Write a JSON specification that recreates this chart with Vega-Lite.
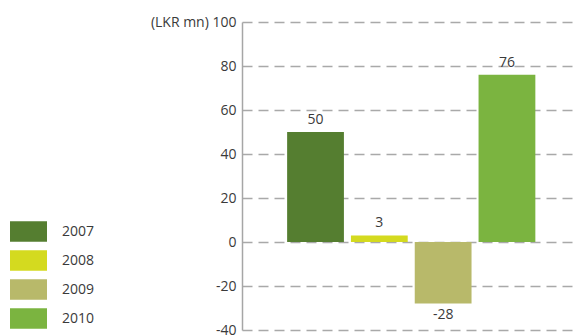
{
  "$schema": "https://vega.github.io/schema/vega-lite/v6.json",
  "autosize": "none",
  "width": 335,
  "height": 308,
  "padding": {"left": 242, "top": 22, "right": 0, "bottom": 6},
  "background": "white",
  "config": {
    "view": {"stroke": null},
    "font": "Open Sans",
    "axis": {"labelFont": "Open Sans", "labelColor": "#3a3a3a", "labelFontSize": 14},
    "legend": {"labelFont": "Open Sans"}
  },
  "data": {
    "values": [
      {"year": "2007", "value": 50},
      {"year": "2008", "value": 3},
      {"year": "2009", "value": -28},
      {"year": "2010", "value": 76}
    ]
  },
  "encoding": {
    "x": {
      "field": "year", "type": "nominal", "axis": null,
      "scale": {"paddingInner": 0.11, "paddingOuter": 0.68, "align": 0.52}
    },
    "y": {
      "field": "value", "type": "quantitative",
      "scale": {"domain": [-40, 100], "nice": false, "zero": false},
      "axis": {
        "title": null,
        "values": [-40, -20, 0, 20, 40, 60, 80, 100],
        "labelExpr": "datum.value == 100 ? '(LKR mn)  100' : replace(datum.label, '\u2212', '-')",
        "labelPadding": 6,
        "ticks": false,
        "domainColor": "#a6a6a6",
        "domainWidth": 1.5,
        "grid": true,
        "gridColor": "#a9a9a9",
        "gridWidth": 1.5,
        "gridDash": [10, 6],
        "labelBound": false,
        "labelFlush": false
      }
    }
  },
  "layer": [
    {
      "mark": {"type": "bar"},
      "encoding": {
        "color": {
          "field": "year", "type": "nominal",
          "scale": {"domain": ["2007", "2008", "2009", "2010"], "range": ["#557e30", "#d4da1f", "#b8b96a", "#7bb440"]},
          "legend": {
            "title": null,
            "orient": "none",
            "legendX": -232,
            "legendY": 191,
            "symbolType": "M-1,-0.56H1V0.56H-1Z",
            "symbolSize": 1369,
            "symbolStrokeWidth": 0,
            "rowPadding": -6.5,
            "labelFontSize": 14,
            "labelColor": "#3a3a3a",
            "labelOffset": 15
          }
        }
      }
    },
    {
      "mark": {"type": "rule", "color": "#a6a6a6", "strokeWidth": 1.5},
      "encoding": {"y": {"datum": 0}}
    },
    {
      "transform": [{"filter": "datum.value >= 0"}],
      "mark": {"type": "text", "baseline": "bottom", "dy": -5, "fontSize": 14, "color": "#3a3a3a"},
      "encoding": {"text": {"field": "value", "type": "nominal"}}
    },
    {
      "transform": [{"filter": "datum.value < 0"}],
      "mark": {"type": "text", "baseline": "top", "dy": 4, "fontSize": 14, "color": "#3a3a3a"},
      "encoding": {"text": {"field": "value", "type": "nominal"}}
    }
  ]
}
